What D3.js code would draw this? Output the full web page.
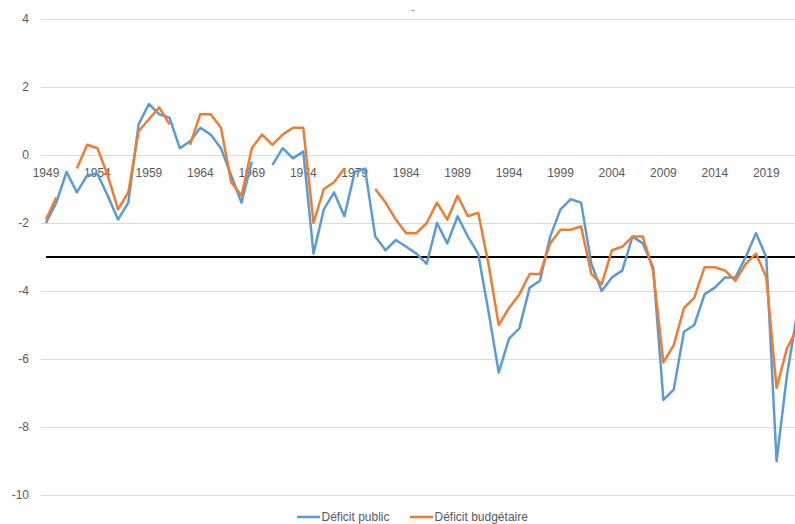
<!DOCTYPE html>
<html>
<head>
<meta charset="utf-8">
<script src="https://cdn.jsdelivr.net/npm/d3@7"></script>
<style>
  html, body { margin: 0; padding: 0; background: #fff; }
  svg { display: block; font-family: "Liberation Sans", Arial, sans-serif; }
</style>
</head>
<body>
<div id="chart"></div>
<script>
// categories
var years = [1949,1950,1951,1952,1953,1954,1955,1956,1957,1958,
             1959,1960,1961,1962,1963,1964,1965,1966,1967,1968,
             1969,1970,1971,1972,1973,1974,1975,1976,1977,1978,
             1979,1980,1981,1982,1983,1984,1985,1986,1987,1988,
             1989,1990,1991,1992,1993,1994,1995,1996,1997,1998,
             1999,2000,2001,2002,2003,2004,2005,2006,2007,2008,
             2009,2010,2011,2012,2013,2014,2015,2016,2017,2018,
             2019,2020,2021,2022];

// Déficit public (% du PIB)
var deficitPublic = [-2.0,-1.4,-0.5,-1.1,-0.6,-0.55,-1.2,-1.9,-1.4,0.9,
                     1.5,1.2,1.1,0.2,0.4,0.8,0.6,0.2,-0.6,-1.4,
                     -0.2,null,-0.3,0.2,-0.1,0.1,-2.9,-1.6,-1.1,-1.8,
                     -0.5,-0.4,-2.4,-2.8,-2.5,-2.7,-2.9,-3.2,-2.0,-2.6,
                     -1.8,-2.4,-2.9,-4.6,-6.4,-5.4,-5.1,-3.9,-3.7,-2.4,
                     -1.6,-1.3,-1.4,-3.2,-4.0,-3.6,-3.4,-2.4,-2.6,-3.3,
                     -7.2,-6.9,-5.2,-5.0,-4.1,-3.9,-3.6,-3.6,-3.0,-2.3,
                     -3.0,-9.0,-6.5,-4.65];

// Déficit budgétaire (% du PIB)
var deficitBudgetaire = [-1.9,-1.25,null,-0.4,0.3,0.2,-0.6,-1.6,-1.1,0.7,
                         1.05,1.4,0.9,null,0.3,1.2,1.2,0.8,-0.8,-1.2,
                         0.2,0.6,0.3,0.6,0.8,0.8,-2.0,-1.0,-0.8,-0.4,
                         null,null,-1.0,-1.4,-1.9,-2.3,-2.3,-2.0,-1.4,-1.9,
                         -1.2,-1.8,-1.7,-3.2,-5.0,-4.5,-4.1,-3.5,-3.5,-2.6,
                         -2.2,-2.2,-2.1,-3.5,-3.8,-2.8,-2.7,-2.4,-2.4,-3.4,
                         -6.1,-5.6,-4.5,-4.2,-3.3,-3.3,-3.4,-3.7,-3.2,-2.9,
                         -3.6,-6.85,-5.7,-5.1];

// 3 % threshold
var seuil = -3;

var yTicks = [4, 2, 0, -2, -4, -6, -8, -10];
var xTickYears = [1949,1954,1959,1964,1969,1974,1979,1984,1989,1994,1999,2004,2009,2014,2019];

var width = 795, height = 524;
var plot = {left: 40.85, right: 802.3, top: 19, bottom: 495};

var svg = d3.select("#chart").append("svg")
    .attr("width", width)
    .attr("height", height);

var x = d3.scalePoint()
    .domain(years)
    .range([plot.left, plot.right])
    .padding(0.5);

var y = d3.scaleLinear()
    .domain([-10, 4])
    .range([plot.bottom, plot.top]);

// gridlines
svg.append("g")
    .selectAll("line")
    .data(yTicks)
    .enter()
    .append("line")
    .attr("x1", plot.left)
    .attr("x2", plot.right)
    .attr("y1", function(d){ return Math.round(y(d)) + 0.5; })
    .attr("y2", function(d){ return Math.round(y(d)) + 0.5; })
    .attr("stroke", "#d9d9d9")
    .attr("stroke-width", 1);

// y axis labels
svg.append("g")
    .selectAll("text")
    .data(yTicks)
    .enter()
    .append("text")
    .attr("x", 29)
    .attr("y", function(d){ return y(d); })
    .attr("dy", "0.35em")
    .attr("text-anchor", "end")
    .attr("font-size", 12)
    .attr("fill", "#595959")
    .text(function(d){ return d; });

// x axis labels, just under the zero line
svg.append("g")
    .selectAll("text")
    .data(xTickYears)
    .enter()
    .append("text")
    .attr("x", function(d){ return x(d); })
    .attr("y", y(0) + 18)
    .attr("dy", "0.35em")
    .attr("text-anchor", "middle")
    .attr("font-size", 12)
    .attr("fill", "#595959")
    .text(function(d){ return d; });

function lineFor(values){
    return d3.line()
        .defined(function(d, i){ return values[i] != null; })
        .x(function(d){ return x(d); })
        .y(function(d, i){ return y(values[i]); })(years);
}

svg.append("path")
    .attr("d", lineFor(years.map(function(){ return seuil; })))
    .attr("fill", "none")
    .attr("stroke", "#000")
    .attr("stroke-width", 2.2);

svg.append("path")
    .attr("d", lineFor(deficitPublic))
    .attr("fill", "none")
    .attr("stroke", "#5b9bd5")
    .attr("stroke-width", 2.5)
    .attr("stroke-linejoin", "round");

svg.append("path")
    .attr("d", lineFor(deficitBudgetaire))
    .attr("fill", "none")
    .attr("stroke", "#ed7d31")
    .attr("stroke-width", 2.5)
    .attr("stroke-linejoin", "round");

// clipped title remnant
svg.append("text")
    .attr("x", 413)
    .attr("y", 9)
    .attr("dy", "0.35em")
    .attr("text-anchor", "middle")
    .attr("font-size", 11)
    .attr("fill", "#8c8c8c")
    .text("-");

// legend
var legend = [
    {label: "Déficit public", color: "#5b9bd5", x: 297},
    {label: "Déficit budgétaire", color: "#ed7d31", x: 410}
];
var lg = svg.append("g")
    .selectAll("g")
    .data(legend)
    .enter()
    .append("g")
    .attr("transform", function(d){ return "translate(" + d.x + ",517)"; });
lg.append("line")
    .attr("x1", 0)
    .attr("x2", 23)
    .attr("stroke", function(d){ return d.color; })
    .attr("stroke-width", 2.5);
lg.append("text")
    .attr("x", 24.5)
    .attr("y", 4)
    .attr("font-size", 12)
    .attr("fill", "#595959")
    .text(function(d){ return d.label; });
</script>
</body>
</html>
